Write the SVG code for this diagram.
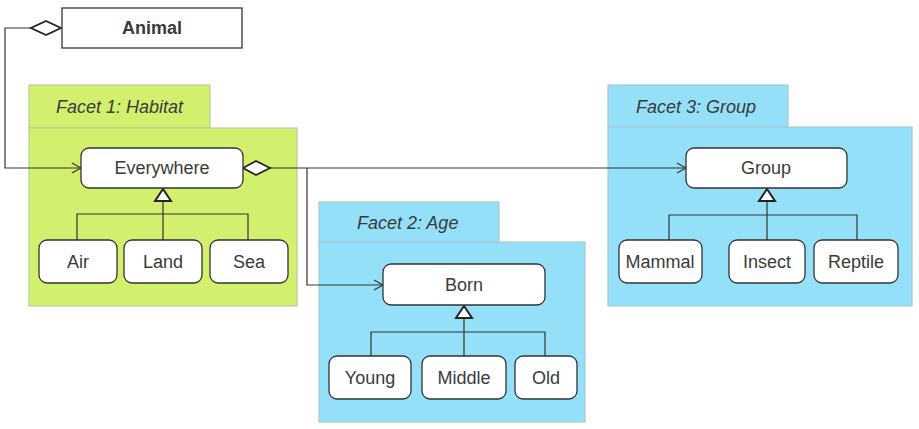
<svg xmlns="http://www.w3.org/2000/svg" width="919" height="429" viewBox="0 0 919 429">
  <defs>
    <style>
      .facet-green { fill: #d3ef6e; stroke: #b9cc9a; stroke-width: 1.2; }
      .facet-blue { fill: #95e0f9; stroke: #a9c9d6; stroke-width: 1.2; }
      .facet-title { font-family: "Liberation Sans", Arial, sans-serif; font-size: 18px; font-style: italic; fill: #3a3a3a; }
      .cls { fill: #ffffff; stroke: #333333; stroke-width: 1.3; }
      .cls-text { font-family: "Liberation Sans", Arial, sans-serif; font-size: 18px; fill: #3a3a3a; text-anchor: middle; dominant-baseline: central; }
      .conn { fill: none; stroke: #333333; stroke-width: 1.2; }
      .diamond { fill: #ffffff; stroke: #222222; stroke-width: 1.8; }
      .gen { fill: #ffffff; stroke: #222222; stroke-width: 2; }
    </style>
    <marker id="open-arrow" markerWidth="12" markerHeight="12" refX="10" refY="6" orient="auto" markerUnits="userSpaceOnUse">
      <path d="M1,1 L10,6 L1,11" fill="none" stroke="#333333" stroke-width="1.2"/>
    </marker>
  </defs>

  <rect width="919" height="429" fill="#ffffff"/>

  <!-- Facet packages -->
  <g id="facet-habitat">
    <rect class="facet-green" x="29" y="85" width="181" height="43"/>
    <rect class="facet-green" x="29" y="128" width="268" height="178"/>
    <text class="facet-title" x="56" y="113">Facet 1: Habitat</text>
  </g>
  <g id="facet-age">
    <rect class="facet-blue" x="319" y="202" width="180" height="40"/>
    <rect class="facet-blue" x="319" y="242" width="266" height="180"/>
    <text class="facet-title" x="357" y="229">Facet 2: Age</text>
  </g>
  <g id="facet-group">
    <rect class="facet-blue" x="608" y="85" width="180" height="42"/>
    <rect class="facet-blue" x="608" y="127" width="304" height="179"/>
    <text class="facet-title" x="636" y="113">Facet 3: Group</text>
  </g>

  <!-- Connectors -->
  <g id="connectors">
    <!-- Animal aggregates Everywhere -->
    <path class="conn" d="M31,28 H5 V168 H81" marker-end="url(#open-arrow)"/>
    <polygon class="diamond" points="61,28 46,21 31,28 46,35"/>
    <!-- Everywhere aggregates Group and Born -->
    <path class="conn" d="M270,168 H686" marker-end="url(#open-arrow)"/>
    <path class="conn" d="M307,168 V285 H383" marker-end="url(#open-arrow)"/>
    <polygon class="diamond" points="243,168 256,161 270,168 256,175"/>

    <!-- Habitat generalization -->
    <path class="conn" d="M163,201 V240 M77,240 V214 H248 V240"/>
    <polygon class="gen" points="163,189 155,201 171,201"/>
    <!-- Age generalization -->
    <path class="conn" d="M464,318 V356 M371,356 V332 H545 V356"/>
    <polygon class="gen" points="464,306 456,318 472,318"/>
    <!-- Group generalization -->
    <path class="conn" d="M767,201 V240 M669,240 V215 H857 V240"/>
    <polygon class="gen" points="767,189 759,201 775,201"/>
  </g>

  <!-- Classes -->
  <g id="animal">
    <rect x="62" y="8" width="180" height="40" fill="#ffffff" stroke="#333333" stroke-width="1.3"/>
    <text class="cls-text" x="152" y="28" font-weight="bold">Animal</text>
  </g>

  <g id="everywhere">
    <rect class="cls" x="81" y="148" width="162" height="40" rx="8"/>
    <text class="cls-text" x="162" y="168">Everywhere</text>
  </g>
  <g id="air">
    <rect class="cls" x="39" y="240" width="78" height="43" rx="8"/>
    <text class="cls-text" x="78" y="262">Air</text>
  </g>
  <g id="land">
    <rect class="cls" x="124" y="240" width="78" height="43" rx="8"/>
    <text class="cls-text" x="163" y="262">Land</text>
  </g>
  <g id="sea">
    <rect class="cls" x="210" y="240" width="78" height="43" rx="8"/>
    <text class="cls-text" x="249" y="262">Sea</text>
  </g>

  <g id="born">
    <rect class="cls" x="383" y="264" width="162" height="41" rx="8"/>
    <text class="cls-text" x="464" y="285">Born</text>
  </g>
  <g id="young">
    <rect class="cls" x="329" y="356" width="82" height="43" rx="8"/>
    <text class="cls-text" x="370" y="378">Young</text>
  </g>
  <g id="middle">
    <rect class="cls" x="422" y="356" width="84" height="43" rx="8"/>
    <text class="cls-text" x="464" y="378">Middle</text>
  </g>
  <g id="old">
    <rect class="cls" x="515" y="356" width="62" height="43" rx="8"/>
    <text class="cls-text" x="546" y="378">Old</text>
  </g>

  <g id="group">
    <rect class="cls" x="686" y="148" width="161" height="40" rx="8"/>
    <text class="cls-text" x="766" y="168">Group</text>
  </g>
  <g id="mammal">
    <rect class="cls" x="619" y="240" width="83" height="43" rx="8"/>
    <text class="cls-text" x="660" y="262">Mammal</text>
  </g>
  <g id="insect">
    <rect class="cls" x="729" y="240" width="76" height="43" rx="8"/>
    <text class="cls-text" x="767" y="262">Insect</text>
  </g>
  <g id="reptile">
    <rect class="cls" x="814" y="240" width="84" height="43" rx="8"/>
    <text class="cls-text" x="856" y="262">Reptile</text>
  </g>
</svg>
